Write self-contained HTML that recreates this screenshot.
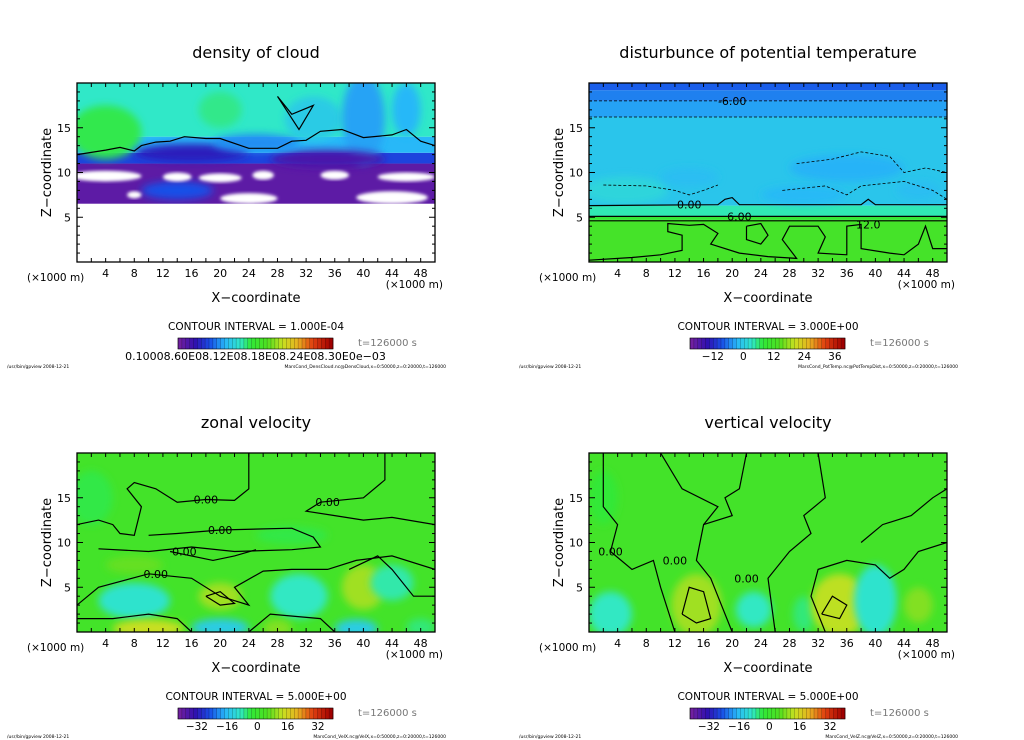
<!DOCTYPE html>
<html><head><meta charset="utf-8"><style>
html,body{margin:0;padding:0;background:#fff;}
svg{display:block;font-family:"DejaVu Sans","Liberation Sans",sans-serif;}
</style></head><body>
<svg id="root" width="1024" height="740" viewBox="0 0 1024 740" xmlns="http://www.w3.org/2000/svg">
<defs><filter id="bl" x="-50%" y="-50%" width="200%" height="200%"><feGaussianBlur stdDeviation="4"/></filter>
<filter id="bl2" x="-20%" y="-20%" width="140%" height="140%"><feGaussianBlur stdDeviation="1.5"/></filter></defs>
</svg>
<script>
// ---------- data ----------
const xTickLabels = [4,8,12,16,20,24,28,32,36,40,44,48];
const yTickLabels = [5,10,15];
// density of cloud: bands [zLow,zHigh,value], blobs [x,z,rx,rz,value]
const dBands = [[6.5,11,0.03],[11,12.2,0.18],[12.2,14,0.3],[14,20,0.4]];
const dBlobs = [[4,14.5,5,3,0.46],[20,17,3,2,0.43],[33,16,4,2.5,0.34],[40,16,3,5,0.28],[46,17,2,3,0.3],[14,8,5,1,0.2],[16,12.2,8,1,0.12],[35,11.5,8,1,0.06],[25,13.3,6,1,0.26]];
const dWhite = [[4,9.6,5,0.6],[14,9.5,2,0.5],[20,9.4,3,0.5],[26,9.7,1.5,0.5],[36,9.7,2,0.5],[46,9.5,4,0.5],[24,7.1,4,0.6],[44,7.2,5,0.7],[8,7.5,1,0.4]];
// potential temperature disturbance
const pBands = [[0,4.7,12],[4.7,5.1,9],[5.1,6.3,4],[6.3,16.2,-1],[16.2,18,-4],[18,19.2,-6],[19.2,20,-8]];
const pBlobs = [[5,8,6,1.5,1],[36,10.5,8,1.5,-3],[30,7.5,6,1,-2.5],[14,9.5,4,1,-2],[46,8,3,1,-2]];
// zonal velocity
const uBlobs = [[8,3.5,5,2,-10],[10,0.4,5,1,14],[20,0.5,4,1,-14],[20,4,3,1.5,11],[31,4,4,2.5,-9],[28,0.4,2,1,9],[39,0.4,3,1,-14],[40,5,3,2.5,11],[44,5.5,3,2,-8],[8,7.5,4,1,7],[2,15,3,3,-4],[30,10.8,5,1,-4],[48,0.5,2,1,-6]];
// vertical velocity
const wBlobs = [[3,2,3,2.5,-9],[15,3,3.5,3.5,11],[23,2.5,2.5,2,-9],[30,2,1.5,2,-6],[35,3,4,3.5,13],[40,3.5,3,4,-10],[46,3,2,2,9],[2,15,2,3,-3]];
// contours [[x,z]...] in km
const dContours = [[[0,12],[4,12.5],[6,12.8],[8,12.4],[9,13],[11,13.4],[13,13.5],[15,14],[18,13.8],[20,13.8],[24,12.7],[28,12.7],[30,13.5],[32,13.6],[34,14.6],[37,14.8],[40,13.9],[44,14.2],[46,14.8],[48,13.5],[50,13]],[[28,18.5],[30,16.5],[33,17.5],[31,14.8],[28,18.5]]];
const pContours = [{pts:[[0,18],[50,18]],dash:true,label:"-6.00",lx:20},{pts:[[0,16.2],[50,16.2]],dash:true,label:"",lx:0},
 {pts:[[0,6.3],[18,6.4],[19,7],[20,7.2],[21,6.4],[38,6.4],[39,7],[40,6.4],[50,6.4]],dash:false,label:"0.00",lx:14},
 {pts:[[0,5.1],[50,5.1]],dash:false,label:"6.00",lx:21},{pts:[[0,4.6],[50,4.6]],dash:false,label:"",lx:0},
 {pts:[[0,0.2],[6,0.5],[10,0.8],[13,1.3],[13,3],[11,3.4],[11,4.3],[14,4.1],[16,4.2],[18,3.2],[17,2],[21,1],[25,0.6],[27,0.5],[29,0.4],[27,2.5],[28,4],[32,4],[33,2.8],[32,1],[36,0.8],[36,4],[38,4.2],[38,1.5],[42,1],[44,0.8],[46,2],[47,4],[48,1.5],[50,1.5]],dash:false,label:"12.0",lx:39},
 {pts:[[22,4],[24,4.3],[25,3],[24,2],[22,2.5],[22,4]],dash:false,label:"",lx:0},
 {pts:[[2,8.6],[8,8.5],[12,8],[14,7.5],[16,8],[18,8.6]],dash:true,label:"",lx:0},{pts:[[27,8],[33,8.5],[36,7.5],[38,8.5],[44,9],[48,8],[50,7]],dash:true,label:"",lx:0},
 {pts:[[29,11],[34,11.5],[38,12.3],[42,11.8],[44,10],[47,10.5],[50,10]],dash:true,label:"",lx:0}];
const uContours = [{pts:[[0,12],[3,12.5],[5,12],[6,11],[8,10.8],[9,14],[7,16],[8,16.7],[11,16],[14,14.5],[18,14.8],[22,14.7],[24,16],[24,20]],label:"0.00",lx:18},
 {pts:[[43,20],[43,17],[40,15],[34,14.5],[32,13.5],[36,13],[40,12.5],[44,12.8],[50,12]],label:"0.00",lx:35},
 {pts:[[3,9.3],[10,9],[16,9.5],[22,9],[30,9.2],[34,9.5],[33,10.6],[30,11.6],[20,11.4],[14,11],[10,10.8]],label:"0.00",lx:20},
 {pts:[[13,9],[19,8],[22,8.5],[25,9.2]],label:"0.00",lx:15},
 {pts:[[0,3],[3,5],[10,6.5],[16,6],[20,4],[24,3],[22,5],[26,6.8],[30,7],[35,7],[39,8],[44,8.5],[50,7]],label:"0.00",lx:11},
 {pts:[[0,1.5],[5,1.5],[10,2],[14,1.5],[16,0]],label:"",lx:0},{pts:[[24,0],[27,2],[34,1.5],[36,0]],label:"",lx:0},
 {pts:[[18,4],[20,3],[22,3.2],[20,4.5],[18,4]],label:"",lx:0},{pts:[[38,7],[42,8.5],[44,7],[47,4],[50,4]],label:"",lx:0}];
const wContours = [{pts:[[2,20],[2,14],[4,12],[3,9],[6,7],[9,8],[10,5],[12,0]],label:"0.00",lx:3},
 {pts:[[20,0],[17,6],[15,8],[16,12],[20,13],[19,15],[21,16],[22,20]],label:"0.00",lx:12},
 {pts:[[10,20],[13,16],[18,14],[16,12]],label:"",lx:0},
 {pts:[[26,0],[25,6],[28,9],[31,11],[30,13],[33,15],[32,20]],label:"0.00",lx:22},
 {pts:[[33,0],[31,4],[32,7],[36,8],[40,7.5],[42,6],[44,7],[46,9],[50,10]],label:"",lx:0},
 {pts:[[38,10],[41,12],[45,13],[48,15],[50,16]],label:"",lx:0},
 {pts:[[32.5,2],[34,4],[36,3],[35,1.5],[32.5,2]],label:"",lx:0},
 {pts:[[13,2],[14,5],[16,4.5],[17,1.5],[15,1],[13,2]],label:"",lx:0}];
const cbLabelsP = [-12,0,12,24,36];
const cbLabelsV = [-32,-16,0,16,32];

// ---------- helpers ----------
const NS="http://www.w3.org/2000/svg";
const root=document.getElementById('root');
function mk(tag,attrs,parent){const e=document.createElementNS(NS,tag);for(const k in attrs)e.setAttribute(k,attrs[k]);(parent||root).appendChild(e);return e;}
const stops=[[0,[112,32,160]],[0.1,[48,16,176]],[0.2,[24,80,232]],[0.3,[40,184,248]],[0.4,[48,232,200]],[0.47,[48,232,56]],[0.58,[80,224,32]],[0.68,[200,224,32]],[0.78,[232,176,32]],[0.88,[224,64,16]],[1,[160,0,0]]];
function cmap(t){t=Math.max(0,Math.min(1,t));for(let i=1;i<stops.length;i++){if(t<=stops[i][0]){const a=stops[i-1],b=stops[i];const f=(t-a[0])/(b[0]-a[0]);const c=a[1].map((v,j)=>Math.round(v+(b[1][j]-v)*f));return `rgb(${c})`;}}return 'rgb(160,0,0)';}

function panel(px,py,opt){
  const W=358,H=179;
  const sx=x=>px+x/50*W, sy=z=>py+H-z/20*H;
  const g=mk('g',{});
  
  
  const cid='c'+opt.name;
  const cp=mk('clipPath',{id:cid},g);mk('rect',{x:px,y:py,width:W,height:H},cp);
  const f=mk('g',{'clip-path':`url(#${cid})`},g);
  const tn=v=>(v-opt.vmin)/(opt.vmax-opt.vmin);
  if(opt.bg!==undefined){const r=mk('rect',{x:px,y:py,width:W,height:H,fill:cmap(tn(opt.bg))},f);}
  (opt.bands||[]).forEach(b=>{const r=mk('rect',{x:px,y:sy(b[1]),width:W,height:sy(b[0])-sy(b[1]),fill:cmap(tn(b[2]))},f);});
  (opt.blobs||[]).forEach(b=>{const e=mk('ellipse',{cx:sx(b[0]),cy:sy(b[1]),rx:b[2]/50*W,ry:b[3]/20*H,fill:cmap(tn(b[4])),filter:'url(#bl)'},f);});
  (opt.white||[]).forEach(b=>{const e=mk('ellipse',{cx:sx(b[0]),cy:sy(b[1]),rx:b[2]/50*W,ry:b[3]/20*H,fill:'#fff',filter:'url(#bl2)'},f);});
  if(opt.whiteBelow!==undefined){const r=mk('rect',{x:px,y:sy(opt.whiteBelow),width:W,height:py+H-sy(opt.whiteBelow),fill:'#fff'},f);}
  (opt.contours||[]).forEach(c=>{
    const pts=c.pts||c;const d=pts.map((p,i)=>(i?'L':'M')+sx(p[0]).toFixed(1)+','+sy(p[1]).toFixed(1)).join('');
    const p=mk('path',{d:d,fill:'none',stroke:'#000','stroke-width':c.dash?0.8:1.2,'stroke-dasharray':c.dash?'3,2':'none'},f);
    
    if(c.label){
      let best=pts[0];pts.forEach(q=>{if(Math.abs(q[0]-c.lx)<Math.abs(best[0]-c.lx))best=q;});
      const t=mk('text',{x:sx(c.lx),y:sy(best[1])+4,'font-size':11,'text-anchor':'middle',stroke:'none',fill:'#000'},f);
      
      t.textContent=c.label;
    }
  });
  const fr=mk('rect',{x:px,y:py,width:W,height:H,fill:'none',stroke:'#000','stroke-width':1.3},g);
  
  for(let x=2;x<50;x+=2){mk('line',{x1:sx(x),x2:sx(x),y1:py,y2:py+4,stroke:'#000'},g);mk('line',{x1:sx(x),x2:sx(x),y1:py+H,y2:py+H-4,stroke:'#000'},g);}
  for(let z=1;z<20;z++){const L=z%5?3:6;mk('line',{x1:px,x2:px+L,y1:sy(z),y2:sy(z),stroke:'#000'},g);mk('line',{x1:px+W,x2:px+W-L,y1:sy(z),y2:sy(z),stroke:'#000'},g);}
  xTickLabels.forEach(v=>{const t=mk('text',{x:sx(v),y:py+H+15,'font-size':11,'text-anchor':'middle'},g);t.textContent=v;});
  yTickLabels.forEach(v=>{const t=mk('text',{x:px-6,y:sy(v)+4,'font-size':11,'text-anchor':'end'},g);t.textContent=v;});
  const cx=px+W/2;
  const T=(x,y,s,txt,name,anchor,extra)=>{const t=mk('text',Object.assign({x:x,y:y,'font-size':s,'text-anchor':anchor||'middle'},extra||{}),g);t.textContent=txt;return t;};
  T(cx,py-25,16,opt.title,'chart-title');
  T(0,0,13,'Z\u2212coordinate','y-axis-title','middle',{transform:`translate(${px-26},${py+H/2}) rotate(-90)`});
  T(px-50,py+H+19,10.5,'(\u00d71000 m)','x-unit-left','start');
  T(px+W+8,py+H+26,10.5,'(\u00d71000 m)','x-unit-right','end');
  T(cx,py+H+40,13,'X\u2212coordinate','x-axis-title');
  T(cx,py+H+68,10.5,'CONTOUR INTERVAL = '+opt.ci,'contour-interval');
  const cbx=px+101,cbw=155,cby=py+H+76,cbh=11;
  const cb=mk('g',{},g);
  for(let i=0;i<40;i++){mk('rect',{x:cbx+i*cbw/40,y:cby,width:cbw/40+0.3,height:cbh,fill:cmap(i/39)},cb);mk('line',{x1:cbx+i*cbw/40,x2:cbx+i*cbw/40,y1:cby,y2:cby+cbh,stroke:'#000','stroke-width':0.4,'stroke-opacity':0.5},cb);}
  mk('rect',{x:cbx,y:cby,width:cbw,height:cbh,fill:'none',stroke:'#000','stroke-width':0.6},cb);
  if(opt.cbLabels){opt.cbLabels.forEach(v=>{T(cbx+(v-opt.vmin)/(opt.vmax-opt.vmin)*cbw,cby+cbh+11,10.5,String(v).replace('-','\u2212'),'colorbar-label');});}
  else T(cbx+cbw/2,cby+cbh+11,11,opt.cbText,'colorbar-label');
  T(px+281,cby+8,10,'t=126000 s','time-label','start',{fill:'#777'});
  T(px-70,py+H+106,4.5,'/usr/bin/gpview   2008-12-21','footer-left','start');
  T(px+W+11,py+H+106,4.5,opt.foot,'footer-right','end');
}
panel(77,83,{name:'density-panel',title:'density of cloud',vmin:0,vmax:1,bands:dBands,blobs:dBlobs,white:dWhite,whiteBelow:6.5,contours:dContours,ci:'1.000E-04',cbText:'0.10008.60E08.12E08.18E08.24E08.30E0e\u221203',foot:'MarsCond_DensCloud.nc@DensCloud,x=0:50000,z=0:20000,t=126000'});
panel(589,83,{name:'pt-panel',title:'disturbunce of potential temperature',vmin:-21,vmax:40,bands:pBands,blobs:pBlobs,contours:pContours,ci:'3.000E+00',cbLabels:cbLabelsP,foot:'MarsCond_PotTemp.nc@PotTempDist,x=0:50000,z=0:20000,t=126000'});
panel(77,453,{name:'zonal-velocity-panel',title:'zonal velocity',vmin:-42,vmax:40,bg:2,blobs:uBlobs,contours:uContours,ci:'5.000E+00',cbLabels:cbLabelsV,foot:'MarsCond_VelX.nc@VelX,x=0:50000,z=0:20000,t=126000'});
panel(589,453,{name:'vertical-velocity-panel',title:'vertical velocity',vmin:-42,vmax:40,bg:2,blobs:wBlobs,contours:wContours,ci:'5.000E+00',cbLabels:cbLabelsV,foot:'MarsCond_VelZ.nc@VelZ,x=0:50000,z=0:20000,t=126000'});
</script>
</body></html>
